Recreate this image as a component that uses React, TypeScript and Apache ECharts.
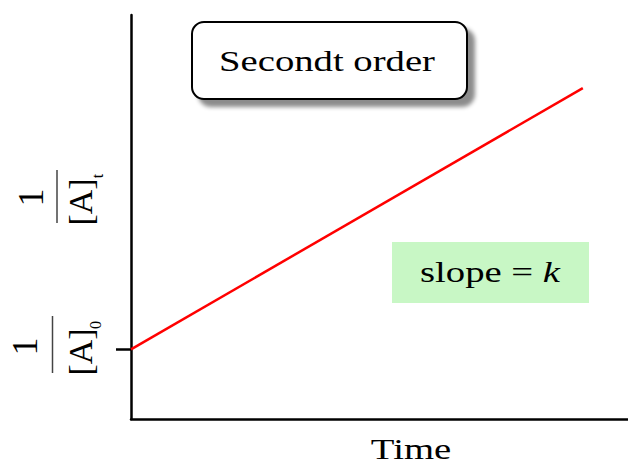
import React, { useEffect, useRef } from "react";
import * as echarts from "echarts";

// Reaction time and 1/[A] for a second-order reaction
const timeValues = [0, 10];
const inverseConc = [1, 4.75];
const xMax = 11;
const yMax = 5.8;
const tickValues = [1];

const SERIF = "Liberation Serif";

export default function App() {
  const ref = useRef<HTMLDivElement>(null);

  useEffect(() => {
    if (!ref.current) return;
    const chart = echarts.init(ref.current, null, { renderer: "svg" });

    const rot = Math.PI / 2;
    // text turned to read bottom-to-top, centred on (x, y)
    const rotatedText = (x: number, y: number, text: string, size: number) => ({
      type: "text",
      x,
      y,
      rotation: rot,
      style: {
        text,
        fontFamily: SERIF,
        fontSize: size,
        fill: "#000",
        align: "center",
        verticalAlign: "middle",
      },
    });
    const bar = (x: number, y1: number, y2: number) => ({
      type: "line",
      shape: { x1: x, y1, x2: x, y2 },
      style: { stroke: "#444", lineWidth: 1.5 },
    });
    const plainText = (x: number, y: number, text: string, extra: any = {}) => ({
      type: "text",
      x,
      y,
      scaleX: 1.29,
      style: {
        text,
        fontFamily: SERIF,
        fontSize: 30,
        fill: "#000",
        align: "center",
        verticalAlign: "middle",
        ...extra,
      },
    });

    chart.setOption({
      animation: false,
      grid: { left: 131, top: 15, right: 0, bottom: 45 },
      xAxis: {
        type: "value",
        min: 0,
        max: xMax,
        axisLine: { show: true, lineStyle: { color: "#000", width: 2.5 } },
        axisTick: { show: false },
        axisLabel: { show: false },
        splitLine: { show: false },
      },
      yAxis: {
        type: "value",
        min: 0,
        max: yMax,
        axisLine: { show: true, lineStyle: { color: "#000", width: 2.5 } },
        axisTick: {
          show: true,
          length: 15,
          customValues: tickValues,
          lineStyle: { color: "#000", width: 2.5 },
        },
        axisLabel: { show: false },
        splitLine: { show: false },
      },
      series: [
        {
          type: "line",
          data: timeValues.map((t, i) => [t, inverseConc[i]]),
          showSymbol: false,
          lineStyle: { color: "#ff0000", width: 2.5 },
        },
      ],
      graphic: [
        // 1/[A]t
        rotatedText(30.5, 197.5, "1", 36),
        bar(57, 170, 223),
        rotatedText(80, 202, "[A]", 34),
        rotatedText(97, 176, "t", 16),
        // 1/[A]0
        rotatedText(24.5, 346.5, "1", 36),
        bar(52.5, 316, 373),
        rotatedText(80, 352, "[A]", 34),
        rotatedText(95.5, 325, "0", 16),
        // title box
        {
          type: "rect",
          shape: { x: 192, y: 22, width: 275, height: 77, r: 12 },
          style: {
            fill: "#fff",
            stroke: "#000",
            lineWidth: 2,
            shadowBlur: 4,
            shadowOffsetX: 7,
            shadowOffsetY: 7,
            shadowColor: "rgba(0,0,0,0.45)",
          },
        },
        plainText(327, 61, "Secondt order"),
        // slope box
        {
          type: "rect",
          shape: { x: 392, y: 242, width: 197, height: 61 },
          style: { fill: "#c8f7c5" },
        },
        plainText(490, 272, "slope = {k|k}", {
          rich: { k: { fontStyle: "italic", fontFamily: SERIF, fontSize: 30 } },
        }),
        // axis name
        plainText(411, 449, "Time"),
      ],
    });

    return () => chart.dispose();
  }, []);

  return (
    <div
      ref={ref}
      style={{ position: "absolute", left: 0, top: 0, width: 628, height: 464, background: "#fff" }}
    />
  );
}
